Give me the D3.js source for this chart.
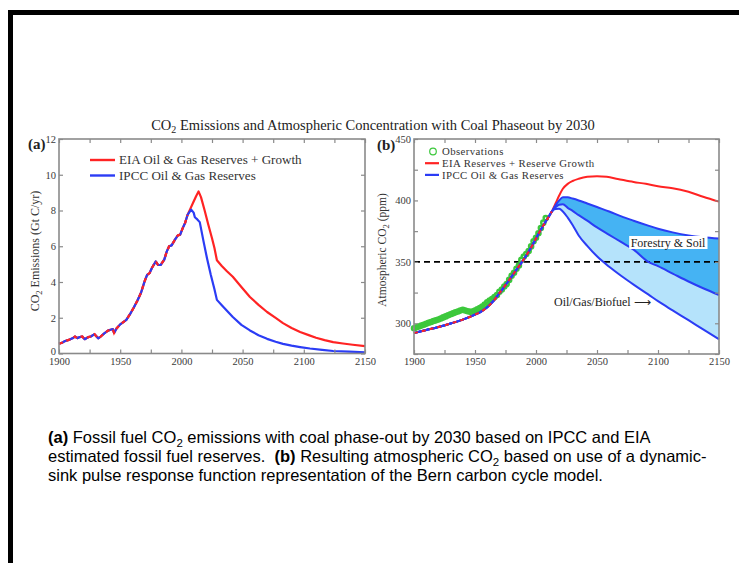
<!DOCTYPE html>
<html>
<head>
<meta charset="utf-8">
<script src="https://cdn.jsdelivr.net/npm/d3@7/dist/d3.min.js"></script>
<style>
  html, body { margin: 0; padding: 0; background: #fff; }
  svg { display: block; }
  .serif { font-family: "Liberation Serif", "Times New Roman", serif; }
  .sans { font-family: "Liberation Sans", Arial, sans-serif; }
</style>
</head>
<body>
<svg id="chart" width="739" height="563"></svg>
<script>
// ---- Panel (a): fossil-fuel CO2 emissions, Gt C/yr ----
const emisHistYears = [1900,1903,1905,1908,1911,1913,1915,1917,1919,1921,1924,1926,1929,1932,1934,1937,1940,1942,1944,1945,1947,1950,1952,1955,1958,1961,1964,1967,1970,1972,1974,1976,1979,1981,1983,1986,1988,1990,1992,1995,1997,1999,2001,2003,2005];
const emisHist      = [0.55,0.62,0.70,0.76,0.85,0.95,0.86,0.92,0.95,0.80,0.92,0.95,1.08,0.85,0.95,1.13,1.28,1.33,1.36,1.15,1.40,1.63,1.73,1.88,2.20,2.56,2.95,3.40,4.05,4.40,4.50,4.80,5.15,4.95,4.95,5.25,5.70,6.00,6.05,6.40,6.60,6.65,7.00,7.30,7.75];

const eiaEmisYears  = [2007,2010,2012,2014,2016,2019,2022,2025,2027,2029,2033,2037,2042,2049,2056,2063,2070,2077,2083,2090,2097,2104,2110,2117,2124,2132,2140,2150];
const eiaEmis       = [8.05,8.50,8.80,9.07,8.75,8.00,7.20,6.45,5.90,5.22,4.90,4.62,4.29,3.72,3.16,2.72,2.32,1.99,1.70,1.43,1.20,1.03,0.88,0.75,0.64,0.56,0.49,0.41];

const ipccEmisYears = [2008,2010,2011,2013,2015,2018,2021,2024,2027,2029,2033,2037,2042,2049,2056,2063,2070,2077,2083,2090,2097,2105,2115,2124,2137,2150];
const ipccEmis      = [8.05,7.88,7.62,7.50,7.35,6.30,5.30,4.40,3.60,3.00,2.70,2.40,2.04,1.60,1.29,1.02,0.82,0.66,0.54,0.44,0.36,0.28,0.20,0.14,0.10,0.07];

// ---- Panel (b): atmospheric CO2, ppm ----
const obsYears = [1900,1902,1904,1906,1908,1910,1912,1914,1916,1918,1920,1922,1924,1926,1928,1930,1932,1934,1936,1938,1940,1942,1944,1946,1948,1950,1952,1954,1956,1958,1960,1962,1964,1966,1968,1970,1972,1974,1976,1978,1980,1982,1984,1986,1988,1990,1992,1994,1996,1998,2000,2002,2004,2006,2008];
const obsCO2   = [296,296.7,297.4,298.1,298.8,299.6,300.4,301.1,301.8,302.4,303.1,303.9,304.8,305.6,306.5,307.3,308.1,308.9,309.6,310.4,311,310.4,309.8,309.3,309.6,310.3,311.3,312.4,313.6,315.3,317,318.5,319.7,321.3,323,325.7,327.5,330,332,335.3,338.7,341.1,344.4,347,351.6,354.4,356.4,358.8,362.6,366.7,369.6,373.2,377.5,381.9,385.6];

const modelYears = [1900,1910,1920,1930,1940,1950,1955,1960,1965,1970,1975,1980,1985,1990,1995,2000,2005,2010,2013];
const modelCO2   = [292,294.5,297,299.8,303,307,309.5,313,318,324.5,331,338,345,352,360,369,378,386,391];

const eiaCO2Years = [2013,2016,2019,2022,2026,2030,2035,2042,2050,2058,2067,2080,2090,2100,2112,2125,2137,2150];
const eiaCO2      = [391,397.5,404,409.5,413.5,415.8,417.6,419.2,419.7,419.2,417.5,415,413.5,411.5,410,407,403,399];

const ipccCO2Years = [2013,2016,2019,2022,2026,2030,2035,2042,2050,2060,2070,2080,2092,2100,2112,2125,2137,2150];
const ipccCO2       = [391,396,400,402.5,402.5,401.5,400,397.5,394.6,391,387,383.5,379.5,377,374,371.5,370,369];
const ipccForestCO2 = [391,394.5,396.5,396.8,394,391.5,388,383.5,378,372,366,360,350,346.5,340.5,334,328.5,323];
const ipccBioCO2    = [391,393,393.2,391,386,380,371.5,363,354.5,346,338.5,331.5,323.5,318,310.5,302.5,295,287];

const xTicks   = [1900,1925,1950,1975,2000,2025,2050,2075,2100,2125,2150];
const emisTicks = [0,2,4,6,8,10,12];
const co2Ticks  = [275,300,325,350,375,400,425,450];
const targetCO2 = 350;

const RED = "#ff2323", BLUE = "#2b3cf5", GREEN = "#3cc83c";
const AXIS = "#8a8a8a", TICKTXT = "#3a3a3a";

const svg = d3.select("#chart");
svg.append("rect").attr("width", 739).attr("height", 563).attr("fill", "#fff");

// page frame (runs off the right and bottom edges)
svg.append("rect")
  .attr("x", 10.5).attr("y", 12.5).attr("width", 800).attr("height", 700)
  .attr("fill", "none").attr("stroke", "#000").attr("stroke-width", 5);

// title
const title = svg.append("text").attr("class", "serif")
  .attr("x", 373).attr("y", 130).attr("text-anchor", "middle")
  .attr("font-size", 14.5).attr("fill", "#222");
title.append("tspan").text("CO");
title.append("tspan").attr("font-size", 10).attr("dy", 3).text("2");
title.append("tspan").attr("dy", -3).text(" Emissions and Atmospheric Concentration with Coal Phaseout by 2030");

function frame(g, x, y, yTickVals, yLabelVals) {
  const [x0, x1] = x.range(), [y0, y1] = y.range();
  const fmtX = d => d % 50 === 0 ? d : "";
  const fmtY = d => yLabelVals.includes(d) ? d : "";
  const styleAxis = sel => {
    sel.select(".domain").remove();
    sel.selectAll(".tick line").attr("stroke", AXIS).attr("stroke-width", 1.2);
    sel.selectAll(".tick text").attr("class", "serif").attr("font-size", 10.5).attr("fill", TICKTXT);
  };
  g.append("g").attr("transform", `translate(0,${y0})`)
    .call(d3.axisBottom(x).tickValues(xTicks).tickFormat(fmtX).tickSize(-4).tickPadding(4)).call(styleAxis);
  g.append("g").attr("transform", `translate(0,${y1})`)
    .call(d3.axisTop(x).tickValues(xTicks).tickFormat("").tickSize(-4)).call(styleAxis);
  const left = g.append("g").attr("transform", `translate(${x0},0)`)
    .call(d3.axisLeft(y).tickValues(yTickVals).tickFormat(fmtY).tickSize(-4).tickPadding(3)).call(styleAxis);
  // lowest label sits just above the year labels
  left.selectAll(".tick").filter(d => d === y.domain()[0]).select("text").attr("dy", "0.05em");
  g.append("g").attr("transform", `translate(${x1},0)`)
    .call(d3.axisRight(y).tickValues(yTickVals).tickFormat("").tickSize(-4)).call(styleAxis);
  g.append("rect").attr("x", x0).attr("y", y1).attr("width", x1 - x0).attr("height", y0 - y1)
    .attr("fill", "none").attr("stroke", AXIS).attr("stroke-width", 1.6);
}

function pairs(xs, ys) { return xs.map((d, i) => [d, ys[i]]); }

// ================= Panel (a) =================
const xa = d3.scaleLinear().domain([1900, 2150]).range([59, 365]);
const ya = d3.scaleLinear().domain([0, 12]).range([353.5, 139]);
const ga = svg.append("g");

const lineA = d3.line().x(d => xa(d[0])).y(d => ya(d[1])).curve(d3.curveLinear);
const histA = pairs(emisHistYears, emisHist);
const eiaA = histA.concat(pairs(eiaEmisYears, eiaEmis));
const ipccA = histA.concat(pairs(ipccEmisYears, ipccEmis));

ga.append("path").attr("d", lineA(eiaA)).attr("fill", "none").attr("stroke", RED).attr("stroke-width", 2.2).attr("stroke-linejoin", "round");
ga.append("path").attr("d", lineA(ipccA)).attr("fill", "none").attr("stroke", BLUE).attr("stroke-width", 2.2).attr("stroke-linejoin", "round");
ga.append("path").attr("d", lineA(histA)).attr("fill", "none").attr("stroke", RED).attr("stroke-width", 2.2).attr("stroke-dasharray", "4,4");

frame(ga, xa, ya, emisTicks, emisTicks);

// legend (a)
const legA = [{c: RED, t: "EIA Oil & Gas Reserves + Growth", y: 160}, {c: BLUE, t: "IPCC Oil & Gas Reserves", y: 175.5}];
legA.forEach(l => {
  ga.append("line").attr("x1", 90).attr("x2", 115).attr("y1", l.y).attr("y2", l.y).attr("stroke", l.c).attr("stroke-width", 2.4);
  ga.append("text").attr("class", "serif").attr("x", 119).attr("y", l.y + 4.3).attr("font-size", 13.1).attr("fill", "#333").text(l.t);
});

// panel letter and y title (a)
ga.append("text").attr("class", "serif").attr("x", 28).attr("y", 149).attr("font-size", 15).attr("font-weight", "bold").attr("fill", "#222").text("(a)");
const ylabA = ga.append("text").attr("class", "serif").attr("transform", "translate(39,251) rotate(-90)")
  .attr("text-anchor", "middle").attr("font-size", 12).attr("fill", "#333");
ylabA.append("tspan").text("CO");
ylabA.append("tspan").attr("font-size", 8.5).attr("dy", 3).text("2");
ylabA.append("tspan").attr("dy", -3).text(" Emissions (Gt C/yr)");

// ================= Panel (b) =================
const xb = d3.scaleLinear().domain([1900, 2150]).range([414, 719]);
const yb = d3.scaleLinear().domain([275, 450]).range([354, 139]);
const gb = svg.append("g");

const lineB = d3.line().x(d => xb(d[0])).y(d => yb(d[1])).curve(d3.curveMonotoneX);
const areaB = (top, bot) => d3.area().x((d, i) => xb(ipccCO2Years[i])).y0((d, i) => yb(bot[i])).y1((d, i) => yb(top[i])).curve(d3.curveMonotoneX)(top);

gb.append("path").attr("d", areaB(ipccForestCO2, ipccBioCO2)).attr("fill", "#b5e3fb");
gb.append("path").attr("d", areaB(ipccCO2, ipccForestCO2)).attr("fill", "#45b3f3");

// 350 ppm reference
gb.append("line").attr("x1", xb(1900)).attr("x2", xb(2150)).attr("y1", yb(targetCO2)).attr("y2", yb(targetCO2))
  .attr("stroke", "#000").attr("stroke-width", 1.8).attr("stroke-dasharray", "6,4");

// observations (open circles that merge into a band)
gb.append("g").selectAll("circle").data(pairs(obsYears, obsCO2)).join("circle")
  .attr("cx", d => xb(d[0])).attr("cy", d => yb(d[1])).attr("r", 2.1)
  .attr("fill", "none").attr("stroke", GREEN).attr("stroke-width", 2.4);

const histB = pairs(modelYears, modelCO2);
gb.append("path").attr("d", lineB(histB.concat(pairs(eiaCO2Years, eiaCO2).slice(1)))).attr("fill", "none").attr("stroke", RED).attr("stroke-width", 2);
[ipccCO2, ipccForestCO2, ipccBioCO2].forEach(s => {
  gb.append("path").attr("d", lineB(histB.concat(pairs(ipccCO2Years, s).slice(1)))).attr("fill", "none").attr("stroke", BLUE).attr("stroke-width", 2);
});
gb.append("path").attr("d", lineB(histB)).attr("fill", "none").attr("stroke", RED).attr("stroke-width", 2).attr("stroke-dasharray", "4,4");

frame(gb, xb, yb, co2Ticks, [300, 350, 400, 450]);

// band labels
const fs = gb.append("text").attr("class", "serif").attr("x", 668).attr("y", 246.5).attr("text-anchor", "middle")
  .attr("font-size", 12).attr("fill", "#222").text("Forestry & Soil");
const bb = fs.node().getBBox();
gb.insert("rect", () => fs.node()).attr("x", bb.x - 1.5).attr("y", bb.y + 0.5).attr("width", bb.width + 3).attr("height", bb.height - 1).attr("fill", "#fff");
gb.append("text").attr("class", "serif").attr("x", 554).attr("y", 305.5).attr("font-size", 12).attr("fill", "#222").text("Oil/Gas/Biofuel \u27F6");

// legend (b)
const legFont = 10.8, legSpacing = 0.4;
gb.append("circle").attr("cx", 433).attr("cy", 151.5).attr("r", 3.3).attr("fill", "none").attr("stroke", GREEN).attr("stroke-width", 1.2);
gb.append("text").attr("class", "serif").attr("x", 442).attr("y", 155.1).attr("font-size", legFont).attr("letter-spacing", legSpacing).attr("fill", "#333").text("Observations");
const legB = [{c: RED, t: "EIA Reserves + Reserve Growth", y: 163.2}, {c: BLUE, t: "IPCC Oil & Gas Reserves", y: 174.9}];
legB.forEach(l => {
  gb.append("line").attr("x1", 425).attr("x2", 439).attr("y1", l.y).attr("y2", l.y).attr("stroke", l.c).attr("stroke-width", 2.2);
  gb.append("text").attr("class", "serif").attr("x", 442).attr("y", l.y + 3.6).attr("font-size", legFont).attr("letter-spacing", legSpacing).attr("fill", "#333").text(l.t);
});

gb.append("text").attr("class", "serif").attr("x", 377).attr("y", 150).attr("font-size", 15).attr("font-weight", "bold").attr("fill", "#222").text("(b)");
const ylabB = gb.append("text").attr("class", "serif").attr("transform", "translate(386,250) rotate(-90)")
  .attr("text-anchor", "middle").attr("font-size", 11.5).attr("fill", "#333");
ylabB.append("tspan").text("Atmospheric CO");
ylabB.append("tspan").attr("font-size", 8.5).attr("dy", 3).text("2");
ylabB.append("tspan").attr("dy", -3).text(" (ppm)");

// ================= Caption =================
const cap = svg.append("g").attr("class", "sans").attr("font-size", 16.5).attr("fill", "#000");
const l1 = cap.append("text").attr("x", 48).attr("y", 443);
l1.append("tspan").attr("font-weight", "bold").text("(a)");
l1.append("tspan").text(" Fossil fuel CO");
l1.append("tspan").attr("font-size", 11.5).attr("dy", 3.5).text("2");
l1.append("tspan").attr("dy", -3.5).text(" emissions with coal phase-out by 2030 based on IPCC and EIA");
const l2 = cap.append("text").attr("x", 48).attr("y", 462);
l2.append("tspan").text("estimated fossil fuel reserves.\u00A0 ");
l2.append("tspan").attr("font-weight", "bold").text("(b)");
l2.append("tspan").text(" Resulting atmospheric CO");
l2.append("tspan").attr("font-size", 11.5).attr("dy", 3.5).text("2");
l2.append("tspan").attr("dy", -3.5).text(" based on use of a dynamic-");
cap.append("text").attr("x", 48).attr("y", 481).text("sink pulse response function representation of the Bern carbon cycle model.");
</script>
</body>
</html>
